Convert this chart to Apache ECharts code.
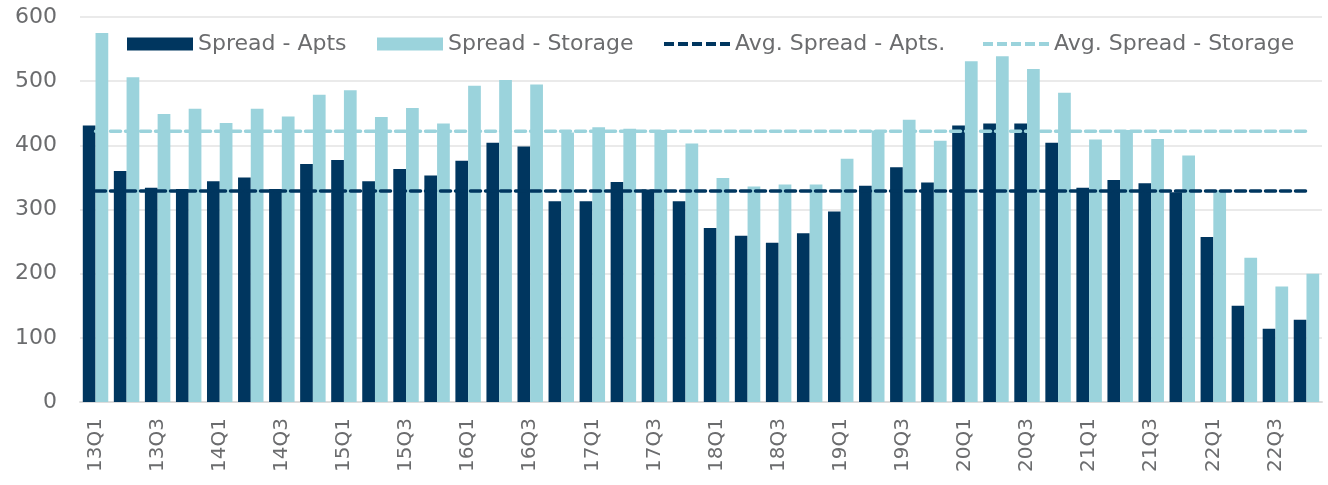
<!DOCTYPE html>
<html>
<head>
<meta charset="utf-8">
<script src="https://cdn.jsdelivr.net/npm/echarts@6/dist/echarts.min.js"></script>
<style>
  html, body { margin: 0; padding: 0; background: #fff; }
  #main { width: 1328px; height: 485px; }
</style>
</head>
<body>
<div id="main"></div>
<script>
var categories = [
  '13Q1', '13Q2', '13Q3', '13Q4', '14Q1', '14Q2', '14Q3', '14Q4',
  '15Q1', '15Q2', '15Q3', '15Q4', '16Q1', '16Q2', '16Q3', '16Q4',
  '17Q1', '17Q2', '17Q3', '17Q4', '18Q1', '18Q2', '18Q3', '18Q4',
  '19Q1', '19Q2', '19Q3', '19Q4', '20Q1', '20Q2', '20Q3', '20Q4',
  '21Q1', '21Q2', '21Q3', '21Q4', '22Q1', '22Q2', '22Q3', '22Q4'
];
var spreadApts = [
  431, 360, 334, 332, 344, 350, 332, 371, 377, 344,
  363, 353, 376, 404, 398, 313, 313, 343, 331, 313,
  271, 259, 248, 263, 297, 337, 366, 342, 431, 434,
  434, 404, 334, 346, 341, 327, 257, 150, 114, 128
];
var spreadStorage = [
  575, 506, 449, 457, 435, 457, 445, 479, 486, 444,
  458, 434, 493, 502, 495, 420, 428, 426, 424, 403,
  349, 336, 339, 339, 379, 423, 440, 407, 531, 539,
  519, 482, 409, 424, 410, 384, 330, 225, 180, 200
];
var avgApts = 329;
var avgStorage = 422;
var yTicks = [0, 100, 200, 300, 400, 500, 600];
var seriesNames = ['Spread - Apts', 'Spread - Storage', 'Avg. Spread - Apts.', 'Avg. Spread - Storage'];

var dark = '#00365f';
var light = '#9bd3dc';
var textGrey = '#6b6c6e';
var font = 'DejaVu Sans';

// dashed icon for the average lines in the legend
var dashIcon = 'path://M0,0h10v4h-10zM14,0h10v4h-10zM28,0h10v4h-10zM42,0h10v4h-10zM56,0h10v4h-10z';

function legendAt(name, left, icon, h) {
  return {
    top: 27,
    left: left,
    itemWidth: 66,
    itemHeight: h,
    icon: icon,
    selectedMode: false,
    textStyle: { color: textGrey, fontSize: 22, lineHeight: 24, fontFamily: font },
    data: [name]
  };
}

var chart = echarts.init(document.getElementById('main'));
var option = {
  backgroundColor: '#fff',
  animation: false,
  textStyle: { fontFamily: font },
  grid: { left: 80, right: 6, top: 17, bottom: 83, containLabel: false, outerBoundsMode: 'none' },
  legend: [
    legendAt(seriesNames[0], 122, 'rect', 13),
    legendAt(seriesNames[1], 372, 'rect', 13),
    legendAt(seriesNames[2], 659, dashIcon, 4),
    legendAt(seriesNames[3], 978, dashIcon, 4)
  ],
  xAxis: {
    type: 'category',
    data: categories,
    axisLine: { lineStyle: { color: '#dcdcdc', width: 2 } },
    axisTick: { show: false },
    axisLabel: {
      interval: 1,
      rotate: 90,
      margin: 16,
      color: textGrey,
      fontSize: 20,
      fontFamily: font
    }
  },
  yAxis: {
    type: 'value',
    min: yTicks[0],
    max: yTicks[yTicks.length - 1],
    interval: 100,
    axisLine: { show: false },
    axisTick: { show: false },
    splitLine: { lineStyle: { color: '#e3e3e3', width: 1.5 } },
    axisLabel: { margin: 23, color: textGrey, fontSize: 22, fontFamily: font }
  },
  series: [
    {
      name: seriesNames[0],
      type: 'bar',
      data: spreadApts,
      barGap: '0%',
      barCategoryGap: '18%',
      itemStyle: { color: dark }
    },
    {
      name: seriesNames[1],
      type: 'bar',
      data: spreadStorage,
      barGap: '0%',
      barCategoryGap: '18%',
      itemStyle: { color: light }
    },
    {
      name: seriesNames[2],
      type: 'line',
      data: categories.map(function () { return avgApts; }),
      symbol: 'none',
      z: 5,
      itemStyle: { color: dark },
      lineStyle: { color: dark, width: 3.5, type: [10, 5], cap: 'round' }
    },
    {
      name: seriesNames[3],
      type: 'line',
      data: categories.map(function () { return avgStorage; }),
      symbol: 'none',
      z: 5,
      itemStyle: { color: light },
      lineStyle: { color: light, width: 3.5, type: [10, 5], cap: 'round' }
    }
  ]
};
chart.setOption(option);
</script>
</body>
</html>
